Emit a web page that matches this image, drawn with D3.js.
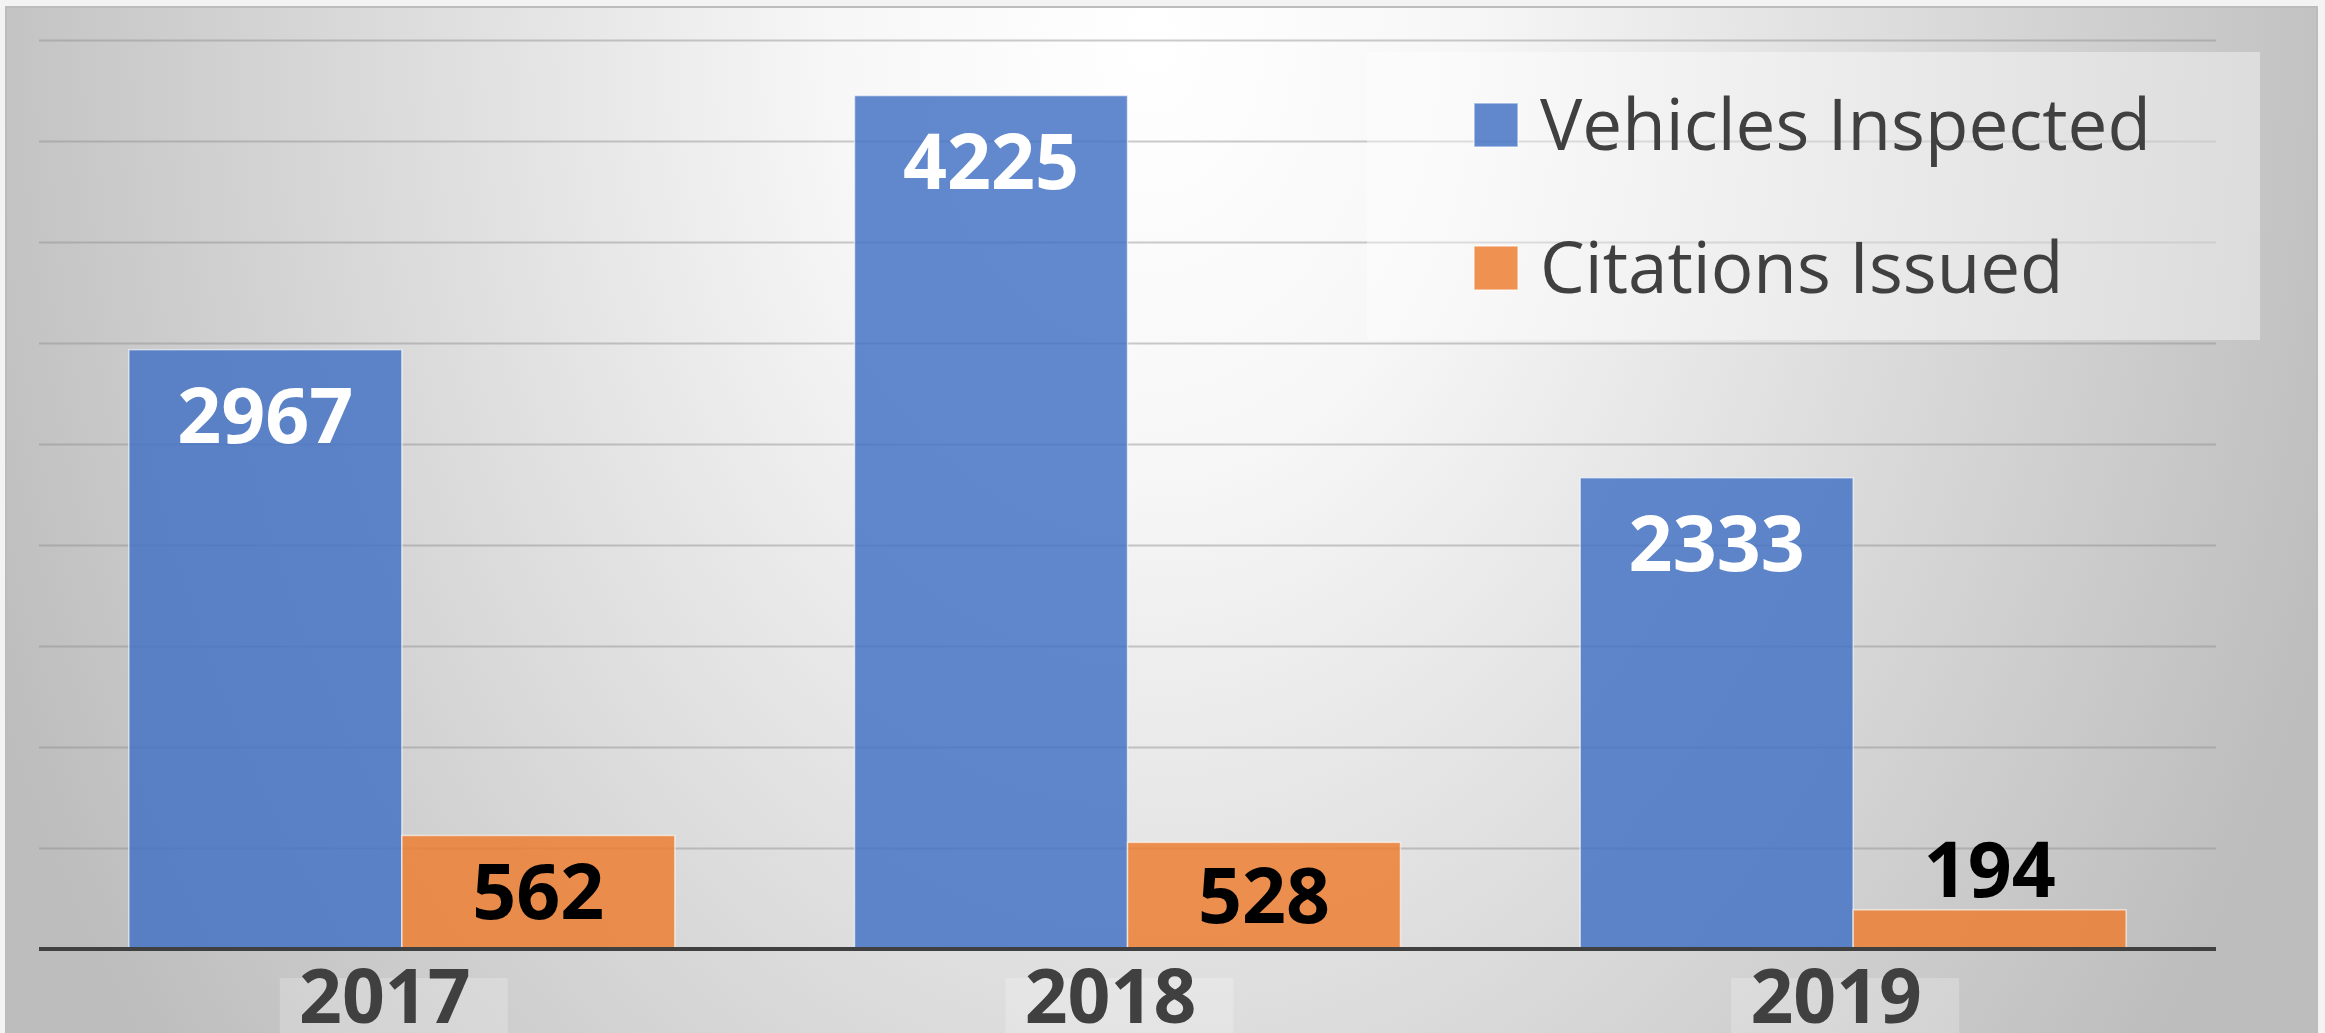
<!DOCTYPE html>
<html>
<head>
<meta charset="utf-8">
<script src="https://cdn.jsdelivr.net/npm/d3@7"></script>
<style>
  html, body { margin: 0; padding: 0; background: #f3f3f3; overflow: hidden; }
  svg { display: block; }
</style>
</head>
<body>
<div id="chart"></div>
<script>
// data
const years = ["2017", "2018", "2019"];
const seriesNames = ["Vehicles Inspected", "Citations Issued"];
const vehiclesInspected = [2967, 4225, 2333];
const citationsIssued = [562, 528, 194];
const gridValues = [500, 1000, 1500, 2000, 2500, 3000, 3500, 4000, 4500];
const seriesColors = ["#4472C4", "#ED7D31"];
const labelColors = ["#ffffff", "#000000"];

const W = 2325, H = 1033;
const plot = {left: 39, right: 2216, top: 40, bottom: 949};

const svg = d3.select("#chart").append("svg")
  .attr("width", W)
  .attr("height", H);

// background gradient of the chart area
const defs = svg.append("defs");
const grad = defs.append("radialGradient")
  .attr("id", "bg")
  .attr("gradientUnits", "userSpaceOnUse")
  .attr("cx", 1150).attr("cy", 40).attr("r", 1250)
  .attr("gradientTransform", "translate(1150,40) scale(1,1.35) translate(-1150,-40)");
grad.append("stop").attr("offset", "0").attr("stop-color", "#ffffff");
grad.append("stop").attr("offset", "0.25").attr("stop-color", "#f7f7f7");
grad.append("stop").attr("offset", "1").attr("stop-color", "#bdbdbd");

svg.append("rect")
  .attr("x", 6).attr("y", 7)
  .attr("width", 2311).attr("height", H)
  .attr("fill", "url(#bg)")
  .attr("stroke", "#bcbcbc")
  .attr("stroke-width", 2);

const rows = years.map(function(yr, i) {
  return {year: yr, values: [vehiclesInspected[i], citationsIssued[i]]};
});

const x0 = d3.scaleBand()
  .domain(years)
  .range([plot.left, plot.right])
  .paddingInner(0.2476)
  .paddingOuter(0.1238);

const x1 = d3.scaleBand()
  .domain(seriesNames)
  .range([0, x0.bandwidth()]);

const y = d3.scaleLinear()
  .domain([0, 4500])
  .range([plot.bottom, plot.top]);

// gridlines
svg.append("g")
  .attr("class", "grid")
  .attr("transform", "translate(" + plot.left + ",0)")
  .call(d3.axisLeft(y).tickValues(gridValues).tickSize(-(plot.right - plot.left)).tickFormat(""))
  .call(function(g) {
    g.select(".domain").remove();
    g.selectAll("line").attr("stroke", "#8c8c8c").attr("stroke-opacity", 0.45).attr("stroke-width", 2);
  });

// bars
const groups = svg.append("g").selectAll("g")
  .data(rows)
  .enter().append("g")
  .attr("transform", function(d) { return "translate(" + x0(d.year) + ",0)"; });

groups.selectAll("rect")
  .data(function(d) { return d.values.map(function(v, k) { return {name: seriesNames[k], k: k, value: v}; }); })
  .enter().append("rect")
  .attr("x", function(d) { return x1(d.name); })
  .attr("y", function(d) { return y(d.value); })
  .attr("width", x1.bandwidth())
  .attr("height", function(d) { return y(0) - y(d.value); })
  .attr("fill", function(d) { return seriesColors[d.k]; })
  .attr("fill-opacity", 0.84)
  .attr("stroke", "#ffffff")
  .attr("stroke-opacity", 0.6)
  .attr("stroke-width", 1.5);

// value labels: inside end when tall, centred when short, above when tiny
groups.selectAll("text.value")
  .data(function(d) { return d.values.map(function(v, k) { return {name: seriesNames[k], k: k, value: v}; }); })
  .enter().append("text")
  .attr("class", "value")
  .attr("x", function(d) { return x1(d.name) + x1.bandwidth() / 2; })
  .attr("y", function(d) {
    let h = y(0) - y(d.value);
    if (h > 150) return y(d.value) + 93;
    if (h > 80) return (y(0) + y(d.value)) / 2 + 27;
    return y(d.value) - 13;
  })
  .attr("text-anchor", "middle")
  .attr("font-family", "'Open Sans', 'Noto Sans', sans-serif")
  .attr("font-weight", "bold")
  .attr("font-size", 77)
  .attr("fill", function(d) {
    let h = y(0) - y(d.value);
    return h > 80 ? labelColors[d.k] : "#000000";
  })
  .text(function(d) { return d.value; });

// x axis baseline
svg.append("line")
  .attr("x1", plot.left).attr("x2", plot.right)
  .attr("y1", y(0)).attr("y2", y(0))
  .attr("stroke", "#404040")
  .attr("stroke-width", 4);

// category labels with their light boxes
const cats = svg.append("g").selectAll("g")
  .data(years)
  .enter().append("g")
  .attr("transform", function(d) { return "translate(" + (x0(d) + x0.bandwidth() / 2 - 17) + ",0)"; });

cats.append("rect")
  .attr("x", -105).attr("y", 978)
  .attr("width", 228).attr("height", 70)
  .attr("fill", "#ffffff")
  .attr("fill-opacity", 0.22);

cats.append("text")
  .attr("y", 1023)
  .attr("text-anchor", "middle")
  .attr("font-family", "'Open Sans', 'Noto Sans', sans-serif")
  .attr("font-weight", "bold")
  .attr("font-size", 75)
  .attr("fill", "#404040")
  .text(function(d) { return d; });

// legend
const legend = svg.append("g").attr("transform", "translate(1367,52)");
legend.append("rect")
  .attr("width", 893).attr("height", 288)
  .attr("fill", "#ffffff")
  .attr("fill-opacity", 0.4);

const items = legend.selectAll("g.item")
  .data(seriesNames)
  .enter().append("g")
  .attr("class", "item")
  .attr("transform", function(d, i) { return "translate(107," + (51 + i * 143) + ")"; });

items.append("rect")
  .attr("width", 44).attr("height", 44)
  .attr("fill", function(d, i) { return seriesColors[i]; })
  .attr("fill-opacity", 0.84)
  .attr("stroke", "#ffffff")
  .attr("stroke-opacity", 0.6)
  .attr("stroke-width", 1.5);

items.append("text")
  .attr("x", 66)
  .attr("y", 47)
  .attr("font-family", "'Open Sans', 'Noto Sans', sans-serif")
  .attr("font-size", 71)
  .attr("fill", "#404040")
  .text(function(d) { return d; });
</script>
</body>
</html>
